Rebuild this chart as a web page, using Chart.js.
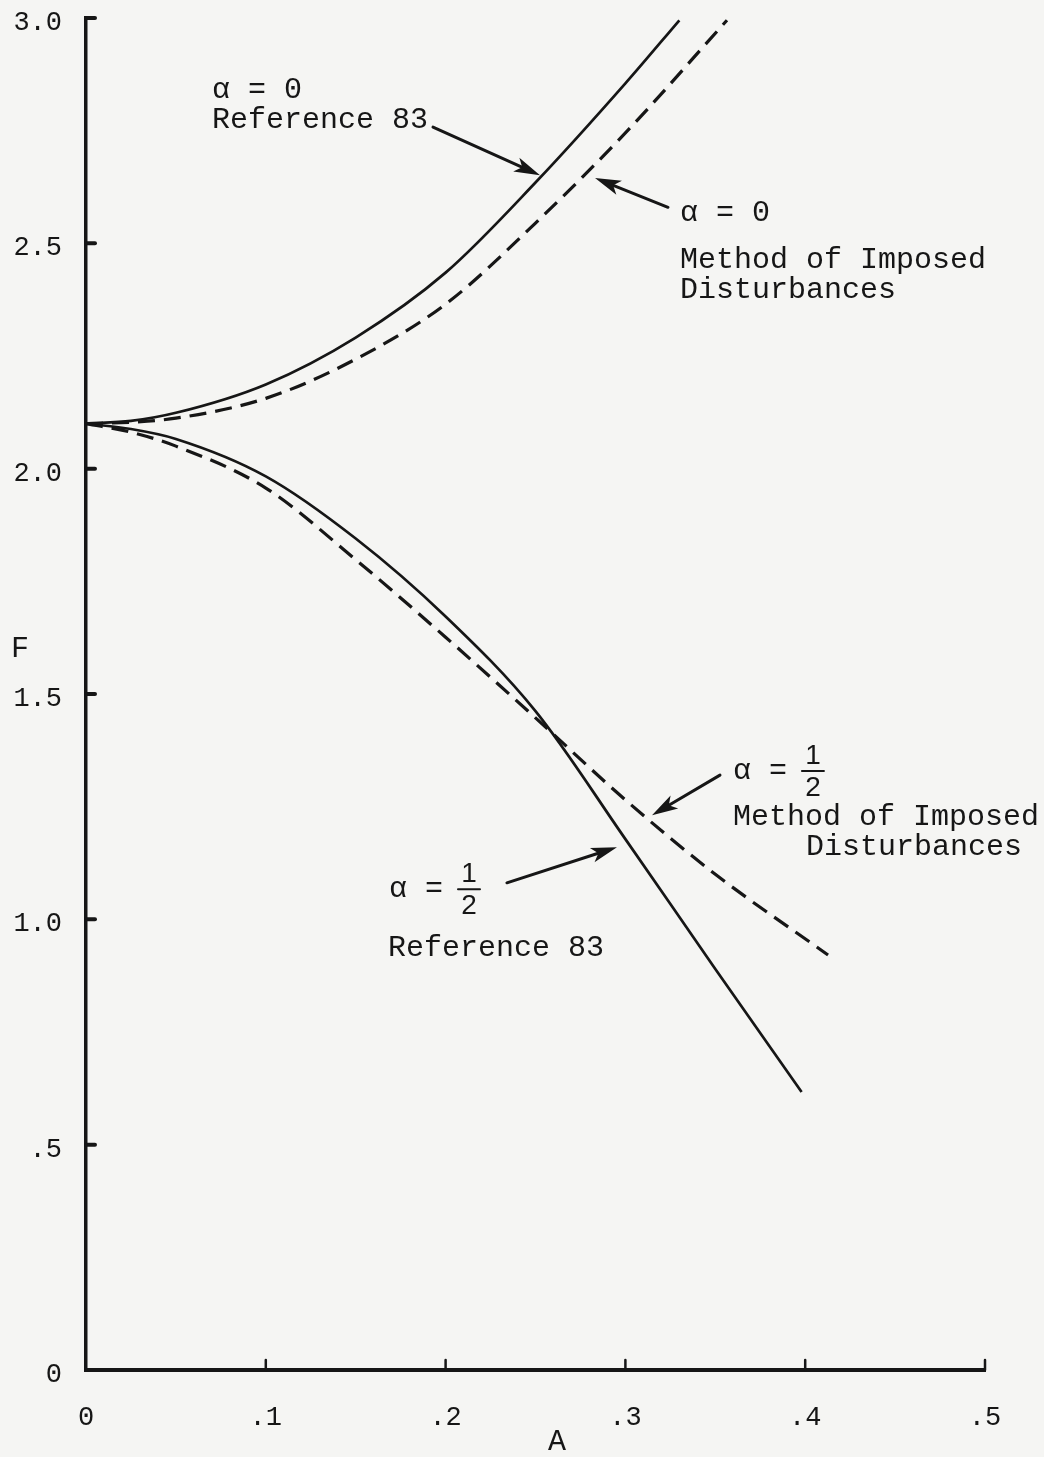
<!DOCTYPE html>
<html>
<head>
<meta charset="utf-8">
<title>F versus A</title>
<script src="https://cdn.jsdelivr.net/npm/chart.js@4.4.1/dist/chart.umd.min.js"></script>
<style>
  html, body { margin: 0; padding: 0; background: #f5f5f3; }
  #chart { display: block; }
</style>
</head>
<body>
<canvas id="chart" width="1044" height="1457"></canvas>
<script>
// alpha = 0, Reference 83 (solid)
const refZeroA = [0, 0.025, 0.05, 0.1, 0.15, 0.2, 0.25, 0.3, 0.33];
const refZeroF = [2.10, 2.106, 2.124, 2.187, 2.291, 2.435, 2.635, 2.855, 2.995];

// alpha = 0, method of imposed disturbances (dashed)
const midZeroA = [0, 0.025, 0.05, 0.1, 0.15, 0.2, 0.25, 0.3, 0.3565];
const midZeroF = [2.10, 2.103, 2.112, 2.156, 2.243, 2.365, 2.545, 2.745, 2.995];

// alpha = 1/2, Reference 83 (solid)
const refHalfA = [0, 0.025, 0.05, 0.1, 0.15, 0.2, 0.25, 0.3, 0.35, 0.398];
const refHalfF = [2.10, 2.088, 2.066, 1.983, 1.845, 1.672, 1.462, 1.178, 0.89, 0.617];

// alpha = 1/2, method of imposed disturbances (dashed)
const midHalfA = [0, 0.025, 0.05, 0.1, 0.15, 0.2, 0.25, 0.3, 0.35, 0.4127];
const midHalfF = [2.10, 2.081, 2.05, 1.957, 1.798, 1.626, 1.447, 1.265, 1.10, 0.921];

const xTicks = [0, 0.1, 0.2, 0.3, 0.4, 0.5];
const xTickLabels = ['0', '.1', '.2', '.3', '.4', '.5'];
const yTicks = [0, 0.5, 1, 1.5, 2, 2.5, 3];
const yTickLabels = ['0', '.5', '1.0', '1.5', '2.0', '2.5', '3.0'];

const ink = '#161616';
const mono = "'Liberation Mono', 'Courier New', monospace";

// labels placed in data units (A, F), left aligned
const notes = [
    { text: 'α = 0', a: 0.0701, f: 2.840 },
    { text: 'Reference 83', a: 0.0701, f: 2.774 },
    { text: 'α = 0', a: 0.3304, f: 2.567 },
    { text: 'Method of Imposed', a: 0.3304, f: 2.463 },
    { text: 'Disturbances', a: 0.3304, f: 2.396 },
    { text: 'α =', a: 0.3598, f: 1.329 },
    { text: 'Method of Imposed', a: 0.3598, f: 1.227 },
    { text: 'Disturbances', a: 0.4004, f: 1.160 },
    { text: 'α =', a: 0.1685, f: 1.067 },
    { text: 'Reference 83', a: 0.168, f: 0.936 }
];

// the two "1/2" fractions, centred on the bar
const fractions = [
    { a: 0.4043, f: 1.329 },
    { a: 0.2130, f: 1.067 }
];

// pointer arrows: tail -> head
const arrows = [
    { from: [0.193, 2.758], to: [0.2525, 2.651] },
    { from: [0.3237, 2.580], to: [0.2831, 2.645] },
    { from: [0.3526, 1.320], to: [0.3148, 1.231] },
    { from: [0.2341, 1.081], to: [0.2953, 1.160] }
];

function toPoints(xs, ys) {
    return xs.map((v, i) => ({ x: v, y: ys[i] }));
}

function makeSeries(label, xs, ys, dash, width) {
    return {
        label: label,
        data: toPoints(xs, ys),
        showLine: true,
        borderColor: ink,
        borderWidth: width,
        borderDash: dash,
        pointRadius: 0,
        fill: false,
        cubicInterpolationMode: 'monotone'
    };
}

function drawArrow(ctx, x1, y1, x2, y2) {
    const ang = Math.atan2(y2 - y1, x2 - x1);
    const c = Math.cos(ang), s = Math.sin(ang);
    const len = 26, half = 7.5;
    ctx.beginPath();
    ctx.moveTo(x1, y1);
    ctx.lineTo(x2 - c * len * 0.6, y2 - s * len * 0.6);
    ctx.lineWidth = 3;
    ctx.stroke();
    ctx.beginPath();
    ctx.moveTo(x2, y2);
    ctx.lineTo(x2 - c * len + s * half, y2 - s * len - c * half);
    ctx.lineTo(x2 - c * len * 0.75, y2 - s * len * 0.75);
    ctx.lineTo(x2 - c * len - s * half, y2 - s * len + c * half);
    ctx.closePath();
    ctx.fill();
}

// inward tick marks, axis letters, labels and arrows
const figureNotes = {
    id: 'figureNotes',
    afterDraw(chart) {
        const { ctx, chartArea, scales: { x, y } } = chart;
        ctx.save();
        ctx.strokeStyle = ink;
        ctx.fillStyle = ink;
        ctx.lineCap = 'round';

        ctx.lineWidth = 4;
        yTicks.forEach(v => {
            if (v === 0) return;
            const py = y.getPixelForValue(v);
            ctx.beginPath();
            ctx.moveTo(chartArea.left, py);
            ctx.lineTo(chartArea.left + 9, py);
            ctx.stroke();
        });
        ctx.lineWidth = 2.5;
        xTicks.forEach(v => {
            if (v === 0) return;
            const px = x.getPixelForValue(v);
            ctx.beginPath();
            ctx.moveTo(px, chartArea.bottom);
            ctx.lineTo(px, chartArea.bottom - 10);
            ctx.stroke();
        });

        ctx.textBaseline = 'middle';
        ctx.font = '30px ' + mono;
        ctx.textAlign = 'center';
        ctx.fillText('F', 20, y.getPixelForValue(1.6));
        ctx.fillText('A', x.getPixelForValue(0.262), chartArea.bottom + 72);

        ctx.textAlign = 'left';
        notes.forEach(n => {
            ctx.fillText(n.text, x.getPixelForValue(n.a), y.getPixelForValue(n.f));
        });

        ctx.font = "28px 'Liberation Sans', sans-serif";
        ctx.textAlign = 'center';
        fractions.forEach(fr => {
            const cx = x.getPixelForValue(fr.a);
            const cy = y.getPixelForValue(fr.f);
            ctx.fillText('1', cx, cy - 15);
            ctx.fillText('2', cx, cy + 17);
            ctx.lineWidth = 2;
            ctx.beginPath();
            ctx.moveTo(cx - 11, cy);
            ctx.lineTo(cx + 11, cy);
            ctx.stroke();
        });

        arrows.forEach(ar => {
            drawArrow(ctx,
                x.getPixelForValue(ar.from[0]), y.getPixelForValue(ar.from[1]),
                x.getPixelForValue(ar.to[0]), y.getPixelForValue(ar.to[1]));
        });
        ctx.restore();
    }
};

function initChart() {
    const ctx = document.getElementById('chart').getContext('2d');
    return new Chart(ctx, {
        type: 'scatter',
        data: {
            datasets: [
                makeSeries('alpha = 0, Reference 83', refZeroA, refZeroF, [], 2.7),
                makeSeries('alpha = 0, Method of Imposed Disturbances', midZeroA, midZeroF, [17, 9], 3.2),
                makeSeries('alpha = 1/2, Reference 83', refHalfA, refHalfF, [], 2.7),
                makeSeries('alpha = 1/2, Method of Imposed Disturbances', midHalfA, midHalfF, [17, 9], 3.2)
            ]
        },
        options: {
            responsive: false,
            animation: false,
            layout: { padding: { top: 18, right: 59, left: 0, bottom: 0 } },
            plugins: {
                legend: { display: false },
                tooltip: { enabled: false }
            },
            scales: {
                x: {
                    type: 'linear',
                    min: 0,
                    max: 0.5,
                    afterFit: s => { s.height = 87; s.paddingLeft = 0; s.paddingRight = 0; },
                    afterBuildTicks: s => { s.ticks = xTicks.map(v => ({ value: v })); },
                    grid: { display: false, drawTicks: false },
                    border: { display: true, color: ink, width: 4 },
                    ticks: {
                        color: ink,
                        font: { family: mono, size: 27 },
                        padding: 32,
                        maxRotation: 0,
                        autoSkip: false,
                        callback: (v, i) => xTickLabels[i]
                    }
                },
                y: {
                    type: 'linear',
                    min: 0,
                    max: 3,
                    afterFit: s => { s.width = 86; s.paddingTop = 0; s.paddingBottom = 0; },
                    afterBuildTicks: s => { s.ticks = yTicks.map(v => ({ value: v })); },
                    grid: { display: false, drawTicks: false },
                    border: { display: true, color: ink, width: 3.5 },
                    ticks: {
                        color: ink,
                        font: { family: mono, size: 27 },
                        padding: 24,
                        labelOffset: 5,
                        autoSkip: false,
                        callback: (v, i) => yTickLabels[i]
                    }
                }
            }
        },
        plugins: [figureNotes]
    });
}

window.addEventListener('load', () => {
    initChart();
});
</script>
</body>
</html>
